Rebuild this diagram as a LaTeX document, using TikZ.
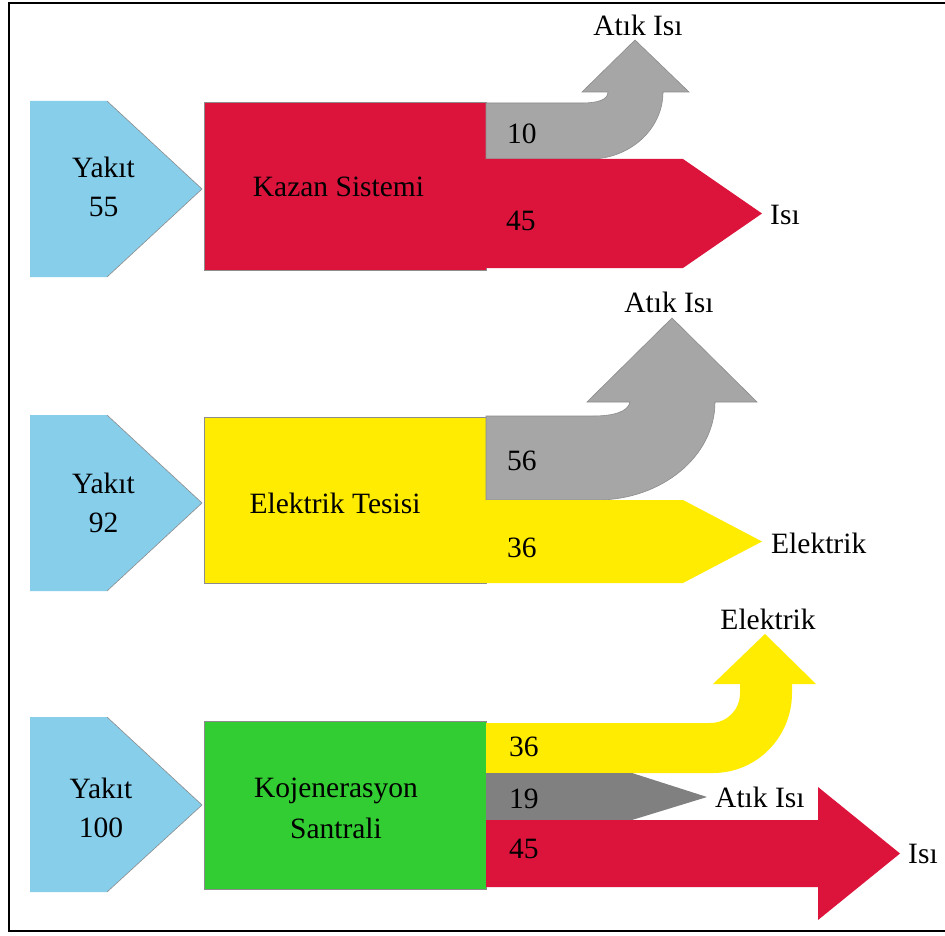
\documentclass[tikz,border=0pt]{standalone}
\usepackage{fontspec}
\setmainfont{Liberation Serif}
\definecolor{fuelblue}{RGB}{135,206,235}
\definecolor{heatred}{RGB}{220,20,60}
\definecolor{wastegray}{RGB}{166,166,166}
\definecolor{darkwaste}{RGB}{128,128,128}
\definecolor{powyellow}{RGB}{255,236,0}
\definecolor{chpgreen}{RGB}{50,205,50}
\definecolor{edgegray}{RGB}{140,140,140}
\tikzset{
  fuelfill/.style={fill=fuelblue},
  fueledge/.style={draw=edgegray, line width=0.6pt},
  plantbox/.style={draw=edgegray, line width=0.6pt},
  flowedge/.style={draw=edgegray, line width=0.6pt},
  lbl/.style={font=\fontsize{29.5}{34}\selectfont, inner sep=0pt},
  num/.style={lbl, anchor=base west},
  mid/.style={lbl, anchor=base},
}
\begin{document}
\begin{tikzpicture}[x=1pt,y=-1pt]
\useasboundingbox (0,0) rectangle (945,936);
\clip (0,0) rectangle (945,936);
\fill[white] (0,0) rectangle (945,936);
% outer frame
\draw[black, line width=2pt] (9,3) rectangle (980,931);

% ---------------- boiler system ----------------
\fill[fuelfill] (30,101) -- (107,101) -- (202,189) -- (107,277) -- (30,277) -- cycle;
\draw[fueledge] (107,101) -- (202,189) -- (107,277);
\path[plantbox, fill=heatred] (204,102) rectangle (486,270);
\path[flowedge, fill=wastegray] (486,103) -- (582,103)
  .. controls (597,103) and (608,100) .. (608,92)
  -- (582,92) -- (635,40) -- (689,92) -- (663,92)
  .. controls (663,129) and (630,159) .. (590,159) -- (486,159) -- cycle;
\fill[heatred] (486,159) -- (683,159) -- (762,213.5) -- (683,268) -- (486,268) -- cycle;
\node[mid] (f1a) at (103.5,178) {Yakıt};
\node[mid] (f1b) at (103.5,217) {55};
\node[mid] (p1) at (338.5,197) {Kazan Sistemi};
\node[num] (n1a) at (507,144) {10};
\node[num] (n1b) at (506,230) {45};
\node[mid] (o1a) at (638,36) {Atık Isı};
\node[num] (o1b) at (770,225) {Isı};

% ---------------- power plant ----------------
\fill[fuelfill] (30,415) -- (107,415) -- (202,503) -- (107,591) -- (30,591) -- cycle;
\draw[fueledge] (107,415) -- (202,503) -- (107,591);
\path[plantbox, fill=powyellow] (204,417) rectangle (486,583);
\path[flowedge, fill=wastegray] (486,416) -- (593,416)
  .. controls (613,416) and (628,412) .. (630,402)
  -- (587,402) -- (672,318) -- (757,402) -- (715,402)
  .. controls (715,456) and (662,500) .. (597,500) -- (486,500) -- cycle;
\fill[powyellow] (486,500) -- (683,500) -- (762,541.5) -- (683,583) -- (486,583) -- cycle;
\node[mid] (f2a) at (103.5,493) {Yakıt};
\node[mid] (f2b) at (103.5,532) {92};
\node[mid] (p2) at (335,513) {Elektrik Tesisi};
\node[num] (n2a) at (507,470) {56};
\node[num] (n2b) at (507,557) {36};
\node[mid] (o2a) at (669,312) {Atık Isı};
\node[num] (o2b) at (771,553) {Elektrik};

% ---------------- cogeneration plant ----------------
\fill[fuelfill] (30,717) -- (107,717) -- (202,805) -- (107,892) -- (30,892) -- cycle;
\draw[fueledge] (107,717) -- (202,805) -- (107,892);
\path[plantbox, fill=chpgreen] (204,721) rectangle (486,889);
\fill[powyellow] (486,723) -- (710,723)
  .. controls (727,723) and (740,710) .. (740,693)
  -- (740,684) -- (713,684) -- (765,634) -- (816,684) -- (792,684) -- (792,693)
  .. controls (792,737) and (757,773) .. (713,773) -- (486,773) -- cycle;
\fill[darkwaste] (486,773) -- (632,773) -- (707,797) -- (632,820) -- (486,820) -- cycle;
\fill[heatred] (486,820) -- (818,820) -- (818,787) -- (900,853.5) -- (818,920) -- (818,887) -- (486,887) -- cycle;
\node[mid] (f3a) at (101,798) {Yakıt};
\node[mid] (f3b) at (101,837) {100};
\node[mid] (p3a) at (336,797) {Kojenerasyon};
\node[mid] (p3b) at (336,838) {Santrali};
\node[num] (n3a) at (509,756) {36};
\node[num] (n3b) at (509,808) {19};
\node[num] (n3c) at (509,858) {45};
\node[mid] (o3a) at (768,629) {Elektrik};
\node[num] (o3b) at (715,807) {Atık Isı};
\node[num] (o3c) at (908,863) {Isı};
\end{tikzpicture}
\end{document}
